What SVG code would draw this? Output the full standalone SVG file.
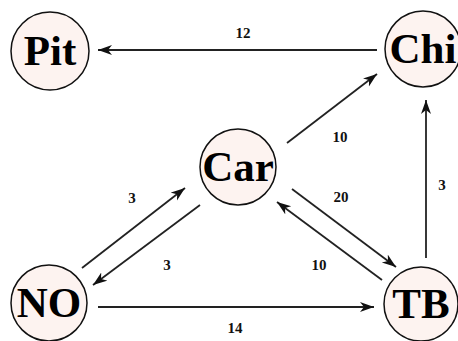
<svg xmlns="http://www.w3.org/2000/svg" width="458" height="341" viewBox="0 0 458 341">
<style>
.node circle{fill:#fdf3f0;stroke:#111;stroke-width:1.5}
.node text{font-family:"Liberation Serif",serif;font-weight:bold;font-size:43px;fill:#000;text-anchor:middle}
.edges line{stroke:#222;stroke-width:1.8;marker-end:url(#ah)}
.lbl{font-family:"Liberation Serif",serif;font-weight:bold;font-size:15px;fill:#111;text-anchor:middle}
</style>
<defs>
<marker id="ah" markerUnits="userSpaceOnUse" markerWidth="16" markerHeight="12" refX="14" refY="5" orient="auto">
<path d="M0,0 L14,5 L0,10 L4,5 Z" fill="#111"/>
</marker>
</defs>
<rect width="458" height="341" fill="#fff"/>
<g class="edges">
<line x1="377" y1="50" x2="98" y2="50"/>
<line x1="287" y1="143" x2="377" y2="74"/>
<line x1="426" y1="258" x2="426" y2="100"/>
<line x1="82" y1="268" x2="185" y2="188"/>
<line x1="200" y1="205" x2="93" y2="285"/>
<line x1="292" y1="189" x2="396" y2="267"/>
<line x1="382" y1="280" x2="277" y2="202"/>
<line x1="98" y1="307" x2="374" y2="307"/>
<text class="lbl" x="243" y="38">12</text>
<text class="lbl" x="340" y="142">10</text>
<text class="lbl" x="442" y="190">3</text>
<text class="lbl" x="132" y="203">3</text>
<text class="lbl" x="167" y="270">3</text>
<text class="lbl" x="341" y="202">20</text>
<text class="lbl" x="319" y="270">10</text>
<text class="lbl" x="235" y="333">14</text>
</g>
<g id="Pit" class="node"><circle cx="50" cy="51" r="39"/><text x="50" y="65">Pit</text></g>
<g id="Chi" class="node"><circle cx="423" cy="49" r="38"/><text x="423" y="63">Chi</text></g>
<g id="Car" class="node"><circle cx="238" cy="167" r="38"/><text x="238" y="181">Car</text></g>
<g id="NO" class="node"><circle cx="49" cy="303" r="38"/><text x="49" y="317">NO</text></g>
<g id="TB" class="node"><circle cx="421" cy="304" r="37"/><text x="421" y="318">TB</text></g>
</svg>
